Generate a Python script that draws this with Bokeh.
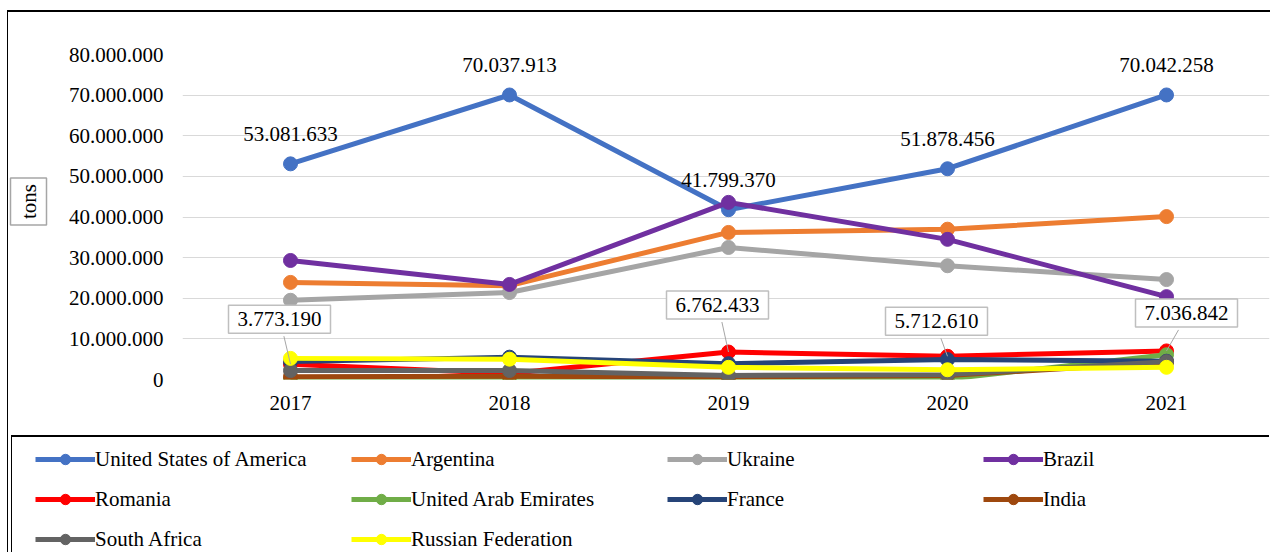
from bokeh.plotting import figure
from bokeh.models import Range1d, FixedTicker, Label, Legend, LegendItem
from bokeh.layouts import column, row
from bokeh.embed import file_html
from bokeh.resources import INLINE
from bokeh.core.properties import value

# ---------------- data ----------------
years = [2017, 2018, 2019, 2020, 2021]
usa = [53081633, 70037913, 41799370, 51878456, 70042258]
argentina = [23900000, 23100000, 36200000, 37000000, 40100000]
ukraine = [19500000, 21400000, 32500000, 28000000, 24600000]
brazil = [29300000, 23400000, 43600000, 34500000, 20400000]
romania = [3773190, 1500000, 6762433, 5712610, 7036842]
uae = [100000, 100000, 100000, 100000, 6100000]
france = [4400000, 5500000, 3900000, 4900000, 4500000]
india = [700000, 800000, 600000, 1000000, 4200000]
south_africa = [2200000, 2200000, 1000000, 1200000, 4400000]
russia = [5200000, 5000000, 3000000, 2400000, 3000000]

series_names = ["United States of America", "Argentina", "Ukraine", "Brazil",
                "Romania", "United Arab Emirates", "France", "India",
                "South Africa", "Russian Federation"]
series_values = [usa, argentina, ukraine, brazil, romania, uae, france, india,
                 south_africa, russia]
series_colors = ["#4472C4", "#ED7D31", "#A5A5A5", "#7030A0", "#FF0000",
                 "#70AD47", "#264478", "#9E480E", "#636363", "#FFFF00"]

y_ticks = [0, 10000000, 20000000, 30000000, 40000000, 50000000, 60000000, 70000000, 80000000]
y_tick_labels = ["0", "10.000.000", "20.000.000", "30.000.000", "40.000.000",
                 "50.000.000", "60.000.000", "70.000.000", "80.000.000"]
x_tick_labels = ["2017", "2018", "2019", "2020", "2021"]
y_title = "tons"

# boxed labels (Romania) : which year indices, and pixel offsets of the box
boxed_idx = [0, 2, 3, 4]
boxed_dx = [-11, -11, -11, 20]
boxed_dy = [45, 47, 35, 38]

FONT = "Liberation Serif"
FS = "21px"

def fmt(v):
    return f"{v:,}".replace(",", ".")

# ---------------- y-title strip ----------------
TW = 50
H1 = 423
t = figure(width=TW, height=H1, output_backend="svg", toolbar_location=None,
           x_range=Range1d(0, 1), y_range=Range1d(0, 1),
           min_border_left=0, min_border_right=0, min_border_top=0, min_border_bottom=0)
t.frame_align = False
t.axis.visible = False
t.grid.visible = False
t.outline_line_color = None
t.add_layout(Label(x=20, y=H1 - 189, x_units="screen", y_units="screen", text=y_title,
                   angle=90, angle_units="deg", text_align="center", text_baseline="middle",
                   text_font=FONT, text_font_size=FS, text_color="black",
                   border_line_color="#a6a6a6", border_line_width=1.5,
                   background_fill_color="white", padding=6))

# ---------------- chart figure ----------------
W = 1262 - TW
ml, mr, mt, mb = 174 - TW, 1, 42, 56
frame_w = W - ml - mr
frame_h = H1 - mt - mb
px_per_year = 219.0
x0 = years[0] - 108.0 / px_per_year
x1 = x0 + frame_w / px_per_year
units_per_px = 80000000 / frame_h

p = figure(width=W, height=H1, output_backend="svg", toolbar_location=None,
           x_range=Range1d(x0, x1), y_range=Range1d(0, 80000000),
           min_border_left=ml, min_border_right=mr, min_border_top=mt, min_border_bottom=mb)
p.frame_align = False
p.outline_line_color = None
p.xgrid.visible = False
p.ygrid.grid_line_color = "#d9d9d9"
p.ygrid.grid_line_width = 1

p.yaxis.ticker = FixedTicker(ticks=y_ticks)
p.yaxis.major_label_overrides = {tk: l for tk, l in zip(y_ticks, y_tick_labels)}
p.xaxis.ticker = FixedTicker(ticks=years)
p.xaxis.major_label_overrides = {y: l for y, l in zip(years, x_tick_labels)}
for ax in (p.xaxis, p.yaxis):
    ax.axis_line_color = None
    ax.major_tick_line_color = None
    ax.minor_tick_line_color = None
    ax.major_label_text_font = FONT
    ax.major_label_text_font_size = FS
    ax.major_label_text_color = "black"
p.yaxis.major_label_standoff = 13
p.xaxis.major_label_standoff = 10

for name, vals, col in zip(series_names, series_values, series_colors):
    p.line(years, vals, line_color=col, line_width=5)
    p.scatter(years, vals, size=14, fill_color=col, line_color=col)

# USA data labels
p.text(x=years, y=usa, text=[fmt(v) for v in usa], text_align="center",
       text_baseline="middle", y_offset=-30, text_font=value(FONT),
       text_font_size=FS, text_color="black")

# Romania boxed labels with leader lines
lx0, ly0, lx1, ly1 = [], [], [], []
for i, dx, dy in zip(boxed_idx, boxed_dx, boxed_dy):
    xv, yv = years[i], romania[i]
    lx0.append(xv)
    ly0.append(yv)
    lx1.append(xv + (dx * 0.6) / px_per_year)
    ly1.append(yv + (dy - 17) * units_per_px)
p.segment(lx0, ly0, lx1, ly1, line_color="#a6a6a6", line_width=1)
for i, dx, dy in zip(boxed_idx, boxed_dx, boxed_dy):
    p.add_layout(Label(x=years[i], y=romania[i], x_offset=dx, y_offset=dy,
                       text=fmt(romania[i]), text_align="center", text_baseline="middle",
                       text_font=FONT, text_font_size=FS, text_color="black",
                       border_line_color="#bfbfbf", border_line_width=1.5,
                       background_fill_color="white", padding=(9, 7)))

# ---------------- legend figure ----------------
LW = 1258
H2 = 117
q = figure(width=LW, height=H2, output_backend="svg", toolbar_location=None,
           x_range=Range1d(0, 1), y_range=Range1d(0, 1),
           min_border_left=0, min_border_right=0, min_border_top=0, min_border_bottom=0)
q.frame_align = False
q.styles = {"border-top": "2px solid black", "border-left": "1px solid black",
            "margin-left": "3px"}
q.axis.visible = False
q.grid.visible = False
q.outline_line_color = None

items = []
for name, col in zip(series_names, series_colors):
    lr = q.line([-5, -4], [-5, -4], line_color=col, line_width=5)
    sr = q.scatter([-5], [-5], size=10, fill_color=col, line_color=col)
    items.append(LegendItem(label=name, renderers=[lr, sr]))

legend = Legend(items=items, location=(23, -5), orientation="horizontal", ncols=4,
                glyph_width=60, glyph_height=26, label_height=40, label_width=256,
                label_standoff=0, spacing=0, padding=0, margin=0,
                label_text_font=FONT, label_text_font_size=FS,
                label_text_baseline="middle", label_text_color="black",
                border_line_color=None, background_fill_alpha=0)
q.add_layout(legend)

layout = column(row(t, p), q)
layout.styles = {"border-top": "2px solid black", "border-left": "1px solid black",
                 "margin-left": "7px", "margin-top": "10px"}
open("out.html", "w").write(file_html(layout, INLINE))
